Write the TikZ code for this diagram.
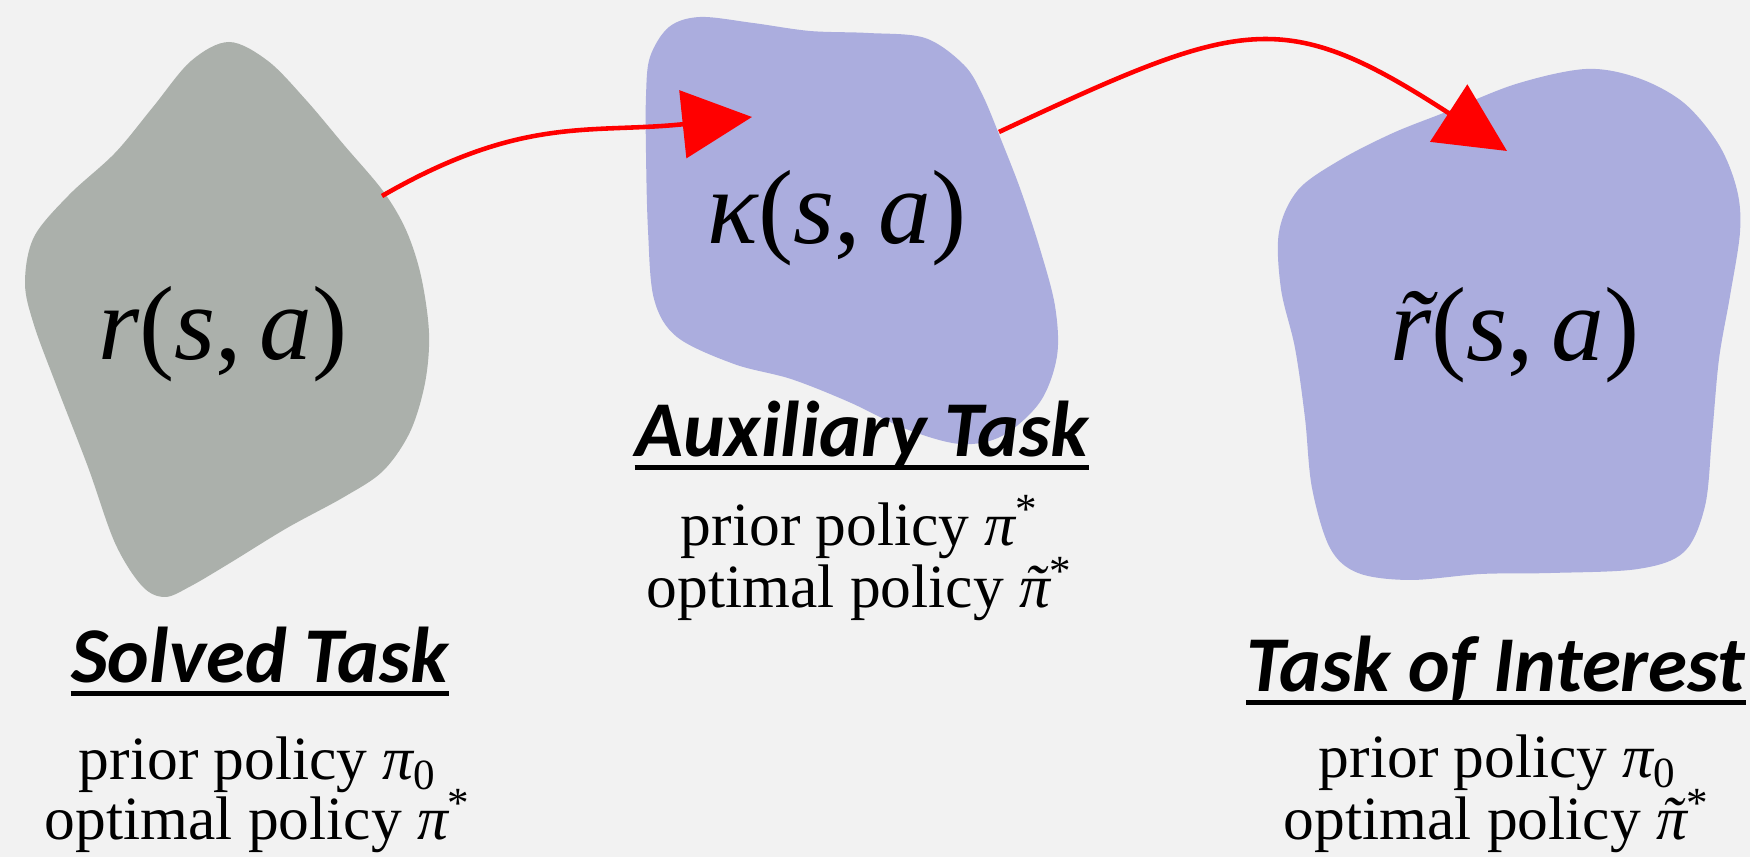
\documentclass[tikz,border=0pt]{standalone}
\usepackage{fontspec}
\usepackage{xcolor}
\usepackage{tikz}
\usetikzlibrary{arrows.meta}

\newfontfamily\titlefont{Carlito}
\newfontfamily\policyfont{Liberation Serif}
\newfontfamily\rewardfont[LetterSpace=4]{Liberation Serif}
\newcommand{\sa}{{\upshape(}s{\upshape,\,}a{\upshape)}}
\newcommand{\tpi}{{\itshape\accent"02DC π}}

\definecolor{bgcol}{HTML}{F2F2F2}
\definecolor{solvedcol}{HTML}{ABB0AB}
\definecolor{taskcol}{HTML}{ABADDE}

\begin{document}
\begin{tikzpicture}[x=0.1mm, y=0.1mm,
    reward/.style={inner sep=0pt, font=\rewardfont\fontsize{30}{34}\selectfont\itshape},
    tasktitle/.style={inner sep=0pt, anchor=base, font=\titlefont\fontsize{22.5}{26}\selectfont\bfseries\itshape},
    policy/.style={inner sep=0pt, anchor=base, font=\policyfont\fontsize{17.5}{20}\selectfont},
    titlerule/.style={line width=1.4pt},
    flow/.style={draw=red, line width=1.3pt, -{Triangle[length=19.8pt, width=19.2pt]}}]

  \useasboundingbox (0,0) rectangle (1750,857);
  \fill[bgcol] (0,0) rectangle (1750,857);

  % task regions
  \fill[solvedcol] plot[smooth cycle, tension=0.55] coordinates {(229,815) (268,796) (306,757) (344,712) (383,666) (406,627) (421,581) (429,524) (425,474) (410,425) (383,386) (344,360) (287,329) (230,294) (191,271) (165,260) (142,271) (115,314) (88,390) (57,470) (34,532) (25,574) (34,620) (69,662) (115,704) (153,750) (191,796)};
  \fill[taskcol] plot[smooth cycle, tension=0.55] coordinates {(650,800) (669,830) (700,840) (753,834) (810,826) (868,824) (925,819) (964,792) (983,761) (1002,715) (1021,666) (1040,608) (1055,551) (1057,501) (1040,455) (1002,421) (960,413) (906,428) (849,455) (791,478) (734,493) (677,520) (654,558) (648,627) (646,704) (646,761)};
  \fill[taskcol] plot[smooth cycle, tension=0.55] coordinates {(1586,788) (1638,779) (1684,754) (1719,712) (1737,667) (1740,625) (1730,561) (1719,498) (1712,421) (1705,351) (1684,305) (1638,288) (1551,284) (1481,283) (1410,277) (1358,284) (1330,309) (1312,369) (1305,439) (1295,509) (1281,568) (1279,625) (1298,667) (1340,697) (1393,724) (1446,745) (1516,773)};

  \node[reward] (solvedr) at (223,523) {r\sa};
  \node[reward] (auxr) at (837,639) {κ\sa};
  \node[reward] (goalr) at (1515,522) {\~{r}\sa};

  % transfer arrows
  \coordinate (solvedout) at (382,661);
  \coordinate (auxin) at (752,740);
  \coordinate (auxout) at (999,725);
  \coordinate (goalin) at (1507,706);
  \draw[flow] (solvedout) to[out=30, in=186, looseness=1.1] (auxin);
  \draw[flow] (auxout) to[out=25, in=147, looseness=1.35] (goalin);

  % labels
  \foreach \x\y\t [count=\ti from 1] in {260/174/Solved Task, 862/400/Auxiliary Task, 1496/165/Task of Interest}{%
    \node[tasktitle] (title\ti) at (\x, \y) {\t};
    \draw[titlerule] ([yshift=-3.1pt]title\ti.base west) -- ([yshift=-3.1pt]title\ti.base east);
  }
  \node[policy] (prior1) at (258,77) {prior policy {\itshape π}\textsubscript{0}};
  \node[policy] (optimal1) at (258,17) {optimal policy {\itshape π}\textsuperscript{*}};
  \node[policy] (prior2) at (860,311) {prior policy {\itshape π}\textsuperscript{*}};
  \node[policy] (optimal2) at (860,249) {optimal policy \tpi\textsuperscript{*}};
  \node[policy] (prior3) at (1498,79) {prior policy {\itshape π}\textsubscript{0}};
  \node[policy] (optimal3) at (1497,17) {optimal policy \tpi\textsuperscript{*}};
\end{tikzpicture}
\end{document}
